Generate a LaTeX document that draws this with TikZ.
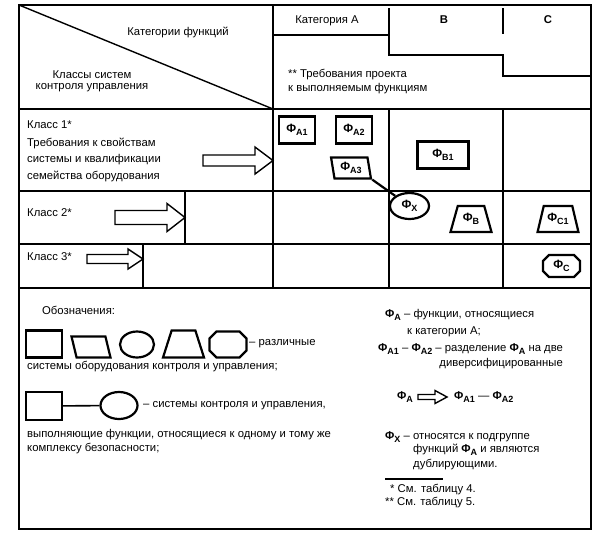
\documentclass[tikz,border=0pt]{standalone}
\usepackage{fontspec}
\setmainfont{Liberation Sans}
\usetikzlibrary{shapes.geometric}

\newcommand{\fsub}[1]{Φ\raisebox{-0.55ex}{\fontsize{9}{9}\selectfont #1}}

\begin{document}
\begin{tikzpicture}[x=1pt,y=-1pt,
    rule/.style={line width=1.4pt},
    lbl/.style={font=\fontsize{11.3}{13}\selectfont, inner sep=0pt, anchor=west},
    fn/.style={draw, line width=2.2pt, inner sep=1pt, font=\fontsize{12}{13}\selectfont\bfseries},
    sym/.style={draw, line width=2.2pt, inner sep=1pt},
    trap/.style={trapezium, trapezium stretches=true, trapezium left angle=70, trapezium right angle=70},
    para/.style={trapezium, trapezium stretches=true, trapezium left angle=100, trapezium right angle=80}]
    \useasboundingbox (0,0) rectangle (601,541);
    % frame and grid of the table
    \draw[rule] (19,5) rectangle (591,529);
    \draw[rule] (19,5) -- (273,109);
    \draw[rule] (19,109) -- (591,109);
    \draw[rule] (19,191) -- (591,191);
    \draw[rule] (19,244) -- (591,244);
    \draw[rule] (19,288) -- (591,288);
    \draw[rule] (273,5) -- (273,288);
    \draw[rule] (389,109) -- (389,288);
    \draw[rule] (503,109) -- (503,288);
    \draw[rule] (185,191) -- (185,244);
    \draw[rule] (143,244) -- (143,288);
    % header of categories
    \draw[rule] (273,35) -- (389,35);
    \draw[rule] (503,8) -- (503,34);
    \draw[rule] (389,8) -- (389,55) -- (503,55) -- (503,76) -- (591,76);
    \node[lbl, anchor=center] (hcat) at (178,32) {Категории функций};
    \node[lbl, anchor=center] (hcls1) at (92,75) {Классы систем};
    \node[lbl, anchor=center] (hcls2) at (92,88) {контроля управления};
    \node[lbl, anchor=center] (hA) at (327,21) {Категория А};
    \node[lbl, anchor=center, font=\fontsize{11.3}{13}\selectfont\bfseries] (hB) at (444,20) {В};
    \node[lbl, anchor=center, font=\fontsize{11.3}{13}\selectfont\bfseries] (hC) at (548,20) {С};
    \node[lbl] (req1) at (288,75) {** Требования проекта};
    \node[lbl] (req2) at (288,89) {к выполняемым функциям};
    % classes
    \node[lbl] (cl1) at (27,125) {Класс 1*};
    \node[lbl] (cl1a) at (27,143) {Требования к свойствам};
    \node[lbl] (cl1b) at (27,160) {системы и квалификации};
    \node[lbl] (cl1c) at (27,176) {семейства оборудования};
    \node[lbl] (cl2) at (27,213) {Класс 2*};
    \node[lbl] (cl3) at (27,257) {Класс 3*};
    % block arrows up to the column borders
    \draw[rule] (203,155) -- (255,155) -- (255,147) -- (273,160.5) -- (255,174) -- (255,166) -- (203,166) -- cycle;
    \draw[rule] (115,210.5) -- (167,210.5) -- (167,203.5) -- (185,217.5) -- (167,231.5) -- (167,224.5) -- (115,224.5) -- cycle;
    \draw[rule] (87,254.5) -- (128,254.5) -- (128,249) -- (143,259) -- (128,269) -- (128,263.5) -- (87,263.5) -- cycle;
    % functions
    \node[fn, minimum width=36pt, minimum height=27pt] (fA1) at (297,130) {\fsub{A1}};
    \node[fn, minimum width=36pt, minimum height=27pt] (fA2) at (354,130) {\fsub{A2}};
    \node[fn, para, minimum width=40pt, minimum height=21pt] (fA3) at (351,168) {\fsub{A3}};
    \node[fn, minimum width=51pt, minimum height=27pt] (fB1) at (443,155) {\fsub{B1}};
    \node[fn, ellipse, minimum width=39pt, minimum height=26pt] (fX) at (409.5,206) {\fsub{X}};
    \node[fn, trap, minimum width=41pt, minimum height=26pt] (fB) at (471,219) {\fsub{B}};
    \node[fn, trap, minimum width=41pt, minimum height=26pt] (fC1) at (558,219) {\fsub{C1}};
    \node[fn, draw=none] (fC) at (561.5,266) {\fsub{C}};
    % octagon round fC
    \draw[line width=2.2pt] (549,255) -- (574,255) -- (580,261) -- (580,271) -- (574,277) -- (549,277) -- (543,271) -- (543,261) -- cycle;
    \draw[line width=2.2pt] (fA3.bottom right corner) -- (fX);
    % legend, left part
    \node[lbl] (leg) at (42,310) {Обозначения:};
    \node[sym, minimum width=36pt, minimum height=27pt] (lsq) at (44,344) {};
    \node[sym, para, minimum width=39pt, minimum height=21pt] (lpar) at (91,347) {};
    \node[sym, ellipse, minimum width=34pt, minimum height=26pt] (lell) at (137,344.5) {};
    \node[sym, trap, minimum width=41pt, minimum height=27pt] (ltrap) at (183.5,344) {};
    \draw[line width=2.2pt] (216.5,331.5) -- (239.5,331.5) -- (246.5,338.5) -- (246.5,350.5) -- (239.5,357.5) -- (216.5,357.5) -- (209.5,350.5) -- (209.5,338.5) -- cycle;
    \node[lbl] (lt1) at (249,344) {– различные};
    \node[lbl] (lt2) at (27,367) {системы оборудования контроля и управления;};
    \node[sym, minimum width=36pt, minimum height=28pt] (lsq2) at (44,406) {};
    \node[sym, ellipse, minimum width=37pt, minimum height=27pt] (lell2) at (119,405.5) {};
    \draw[line width=1.6pt] (lsq2) -- (lell2);
    \node[lbl] (lt3) at (143,406) {– системы контроля и управления,};
    \node[lbl] (lt4) at (27,435) {выполняющие функции, относящиеся к одному и тому же};
    \node[lbl] (lt5) at (27,449) {комплексу безопасности;};
    % legend, right part
    \node[lbl] (rt1) at (385,315) {\textbf{\fsub{A}} – функции, относящиеся};
    \node[lbl] (rt2) at (407,332) {к категории А;};
    \node[lbl] (rt3) at (378,349) {\textbf{\fsub{A1}} – \textbf{\fsub{A2}} – разделение \textbf{\fsub{A}} на две};
    \node[lbl, anchor=east] (rt4) at (563,364) {диверсифицированные};
    \node[lbl] (rfa) at (397,397) {\textbf{\fsub{A}}};
    \draw[rule] (418,394.5) -- (435,394.5) -- (435,390.5) -- (447,397) -- (435,403.5) -- (435,399.5) -- (418,399.5) -- cycle;
    \node[lbl] (rfa12) at (454,397) {\textbf{\fsub{A1}} — \textbf{\fsub{A2}}};
    \node[lbl] (rt5) at (385,437) {\textbf{\fsub{X}} – относятся к подгруппе};
    \node[lbl] (rt6) at (413,450) {функций \textbf{\fsub{A}} и являются};
    \node[lbl] (rt7) at (413,465) {дублирующими.};
    \draw[line width=1.2pt] (385,479) -- (443,479);
    \node[lbl] (fn1) at (390,490) {* См. таблицу 4.};
    \node[lbl] (fn2) at (385,503) {** См. таблицу 5.};
\end{tikzpicture}
\end{document}
